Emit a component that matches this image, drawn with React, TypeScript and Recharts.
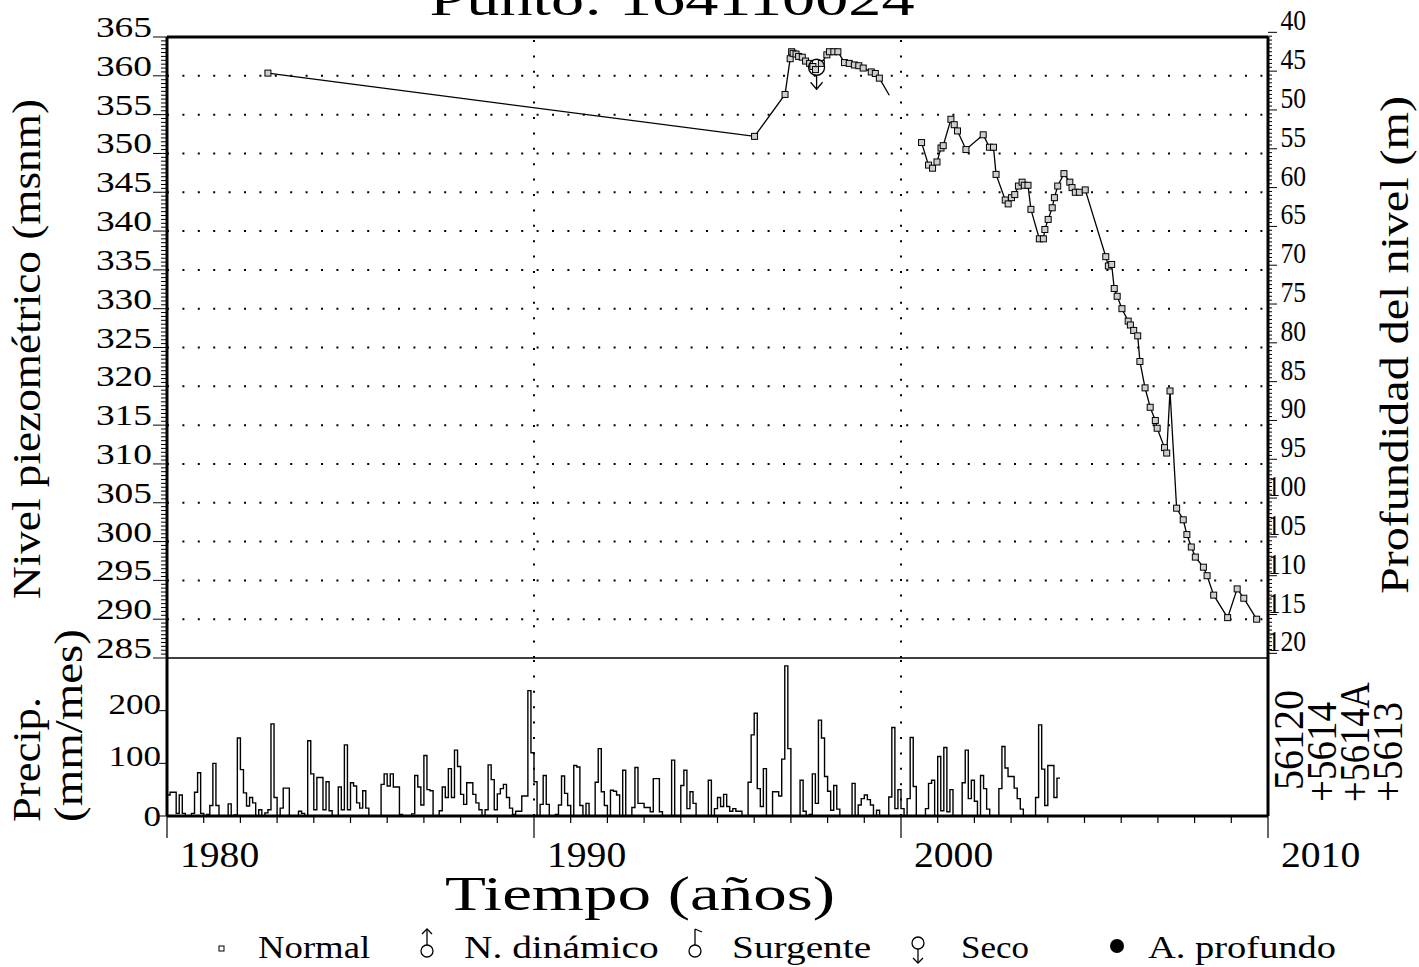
import React from 'react';
import { LineChart, Line, XAxis, YAxis, ReferenceLine, ReferenceDot } from 'recharts';

const FONT = "'Liberation Serif', 'DejaVu Serif', serif";
const W = 1419;
const H = 967;
const PLOT_L = 167;
const PLOT_R = 1268;
const TOP = 37;
const MID = 658;
const BOTTOM = 816;

// nivel piezométrico, primer tramo (año decimal / msnm)
const seg1Years = [
  1982.75, 1996.01, 1996.84, 1996.98, 1997.02, 1997.06, 1997.14, 1997.21, 1997.31, 1997.4,
  1997.51, 1997.6, 1997.67, 1997.83, 1997.98, 1998.05, 1998.17, 1998.28, 1998.46, 1998.59,
  1998.73, 1998.85, 1998.97, 1999.19, 1999.3, 1999.41, 1999.68,
];
const seg1Levels = [
  360.35, 352.2, 357.6, 362.2, 363.1, 362.9, 362.8, 362.5, 362.4, 361.9,
  361.6, 361.2, 360.8, 361.6, 362.7, 363.1, 363.1, 363.1, 361.7, 361.6,
  361.4, 361.3, 361.0, 360.5, 360.3, 359.7, 357.5,
];
const seg1NoMark = [26];

// segundo tramo
const seg2Years = [
  2000.56, 2000.75, 2000.86, 2000.98, 2001.09, 2001.15, 2001.36, 2001.45, 2001.54, 2001.77,
  2002.24, 2002.41, 2002.52, 2002.59, 2002.84, 2002.92, 2003.01, 2003.1, 2003.2, 2003.3,
  2003.36, 2003.46, 2003.54, 2003.77, 2003.88, 2003.92, 2004.01, 2004.12, 2004.18, 2004.27,
  2004.44, 2004.6, 2004.66, 2004.75, 2004.86, 2005.02, 2005.58, 2005.65, 2005.74, 2005.81,
  2005.89, 2006.02, 2006.19, 2006.25, 2006.34, 2006.45, 2006.51, 2006.65, 2006.79, 2006.93,
  2006.98, 2007.18, 2007.24, 2007.33, 2007.51, 2007.69, 2007.79, 2007.91, 2008.02, 2008.24,
  2008.34, 2008.52, 2008.9, 2009.16, 2009.34, 2009.69,
];
const seg2Levels = [
  351.4, 348.5, 348.1, 348.9, 350.7, 351.0, 354.4, 353.7, 352.9, 350.5,
  352.4, 350.8, 350.8, 347.3, 344.0, 343.5, 344.3, 344.7, 345.8, 346.3,
  345.9, 345.9, 342.8, 339.0, 339.0, 340.2, 341.5, 343.0, 344.3, 345.8,
  347.4, 346.3, 345.6, 345.0, 345.0, 345.3, 336.7, 335.5, 335.7, 332.6,
  331.6, 330.0, 328.4, 327.9, 327.2, 326.5, 323.2, 319.8, 317.3, 315.6,
  314.6, 312.1, 311.4, 319.4, 304.3, 302.8, 300.9, 299.3, 298.0, 296.7,
  295.6, 293.1, 290.2, 293.9, 292.7, 290.0,
];

// medida "Seco"
const secoYear = 1997.7;
const secoLevel = 361.1;

// precipitación mensual (mm/mes) desde enero 1980
const precipStartYear = 1980;
const precipMonthly = [
  40, 45, 45, 5, 40, 5, 0, 0, 5, 45, 82, 5, // 1980
  0, 3, 20, 100, 20, 0, 0, 0, 23, 0, 2, 148, // 1981
  88, 44, 19, 35, 25, 0, 12, 0, 6, 12, 175, 35, // 1982
  0, 15, 53, 53, 0, 0, 0, 9, 5, 0, 143, 80, // 1983
  12, 73, 73, 12, 65, 10, 0, 0, 55, 12, 135, 12, // 1984
  63, 57, 25, 15, 48, 15, 0, 0, 0, 0, 60, 80, // 1985
  57, 80, 55, 55, 3, 0, 0, 0, 4, 77, 55, 21, // 1986
  115, 50, 48, 0, 0, 10, 55, 35, 90, 35, 125, 94, // 1987
  41, 22, 63, 63, 41, 25, 12, 0, 12, 97, 69, 12, // 1988
  42, 52, 60, 35, 15, 3, 9, 9, 38, 38, 238, 120, // 1989
  65, 0, 22, 77, 22, 0, 0, 3, 21, 76, 43, 20, // 1990
  0, 96, 93, 20, 0, 24, 0, 0, 64, 128, 46, 20, // 1991
  0, 49, 47, 40, 0, 87, 0, 0, 16, 92, 24, 24, // 1992
  16, 16, 8, 71, 71, 8, 0, 0, 0, 106, 0, 0, // 1993
  58, 87, 14, 46, 24, 0, 0, 0, 0, 68, 0, 14, // 1994
  35, 18, 41, 18, 9, 14, 9, 9, 0, 0, 64, 154, // 1995
  195, 52, 18, 90, 0, 0, 46, 46, 38, 108, 285, 128, // 1996
  0, 0, 0, 68, 9, 0, 3, 80, 24, 182, 148, 75, // 1997
  47, 11, 58, 13, 0, 0, 0, 0, 62, 0, 21, 33, // 1998
  40, 31, 21, 0, 11, 0, 0, 0, 36, 168, 14, 50, // 1999
  14, 0, 33, 149, 56, 0, 0, 0, 14, 62, 68, 0, // 2000
  113, 10, 130, 8, 50, 0, 0, 0, 63, 125, 33, 68, // 2001
  28, 0, 77, 52, 13, 0, 0, 0, 52, 132, 91, 75, // 2002
  75, 53, 33, 13, 0, 0, 0, 0, 35, 173, 89, 20, // 2003
  96, 96, 35, 72, // 2004
];

const levelLabels = [285, 290, 295, 300, 305, 310, 315, 320, 325, 330, 335, 340, 345, 350, 355, 360, 365];
const depthLabels = [40, 45, 50, 55, 60, 65, 70, 75, 80, 85, 90, 95, 100, 105, 110, 115, 120];
const GROUND = 405.6; // cota del terreno: profundidad = GROUND - nivel
const precipLabels = [0, 100, 200];
const decadeLabels = [1980, 1990, 2000, 2010];
const stationLabels = ['56120', '+5614', '+5614A', '+5613'];

const seg1Data = seg1Years.map((t, i) => ({ t, v: seg1Levels[i], mark: !seg1NoMark.includes(i) }));
const seg2Data = seg2Years.map((t, i) => ({ t, v: seg2Levels[i], mark: true }));
const precipData = precipMonthly.map((p, i) => ({ t: precipStartYear + i / 12, p }));
precipData.push({ t: precipStartYear + precipMonthly.length / 12, p: precipMonthly[precipMonthly.length - 1] });

const levelTicks: number[] = [];
for (let v = 285; v <= 365; v += 0.5) levelTicks.push(v);
const depthTicks: number[] = [];
for (let d = 40; d <= 120; d += 0.5) depthTicks.push(+(GROUND - d).toFixed(2));
const yearTicks: number[] = [];
for (let y = 1980; y <= 2010; y++) yearTicks.push(y);
const gridLevels = levelLabels.filter((v) => v > 285 && v < 365);

const DOTS = '2 13.4';

// monospaced look: every label gets a fixed pitch per character
function Txt({ x, y, size, pitch, anchor = 'start', children }: any) {
  const s = String(children);
  return (
    <text
      x={x}
      y={y}
      textAnchor={anchor}
      fontFamily={FONT}
      fontSize={size}
      textLength={s.length * pitch}
      lengthAdjust="spacingAndGlyphs"
      fill="#000"
    >
      {s}
    </text>
  );
}

function LevelTick(props: any) {
  const { y, payload } = props;
  const v = payload.value;
  const major = levelLabels.includes(v);
  return (
    <g>
      <line x1={major ? PLOT_L - 14 : PLOT_L - 6} x2={PLOT_L} y1={y} y2={y} stroke="#000" strokeWidth={1} />
      {major && <Txt x={PLOT_L - 15} y={y} size={30} pitch={18.7} anchor="end">{v}</Txt>}
    </g>
  );
}

function DepthTick(props: any) {
  const { y, payload } = props;
  const d = Math.round((GROUND - payload.value) * 2) / 2;
  const major = depthLabels.includes(d);
  return (
    <g>
      <line x1={PLOT_R} x2={PLOT_R + (major ? 9 : 4)} y1={y} y2={y} stroke="#000" strokeWidth={1} />
      {major && <Txt x={PLOT_R + 38} y={y - 2} size={30} pitch={12.8} anchor="end">{d}</Txt>}
    </g>
  );
}

function PrecipTick(props: any) {
  const { y, payload } = props;
  const v = payload.value;
  return (
    <g>
      <line x1={PLOT_L - 8} x2={PLOT_L} y1={y} y2={y} stroke="#000" strokeWidth={1} />
      <Txt x={PLOT_L - 6} y={y + (v === 0 ? 10 : 3)} size={30} pitch={17.5} anchor="end">{v}</Txt>
    </g>
  );
}

function YearTick(props: any) {
  const { x, payload } = props;
  const v = payload.value;
  const decade = decadeLabels.includes(v);
  return (
    <g>
      <line x1={x} x2={x} y1={BOTTOM} y2={BOTTOM + (decade ? 22 : 7)} stroke="#000" strokeWidth={1.2} />
      {decade && <Txt x={x + 13} y={867} size={35} pitch={19.8}>{v}</Txt>}
    </g>
  );
}

function SquareDot(props: any) {
  const { cx, cy, payload, index } = props;
  if (!payload.mark) return <g key={`n-${index}`} />;
  return <rect key={`d-${index}`} x={cx - 3} y={cy - 3} width={6} height={6} fill="#cfcfcf" stroke="#000" strokeWidth={1} />;
}

function SecoShape(props: any) {
  const { cx, cy } = props;
  return (
    <g fill="none" stroke="#000" strokeWidth={1.3}>
      <circle cx={cx} cy={cy} r={8} />
      <line x1={cx} x2={cx} y1={cy + 8} y2={cy + 22} />
      <polyline points={`${cx - 6},${cy + 15} ${cx},${cy + 22} ${cx + 6},${cy + 15}`} />
    </g>
  );
}

function Rot({ x, y, size, len, anchor = 'middle', children }: any) {
  return (
    <text
      transform={`translate(${x},${y}) rotate(-90)`}
      textAnchor={anchor}
      fontFamily={FONT}
      fontSize={size}
      textLength={len}
      lengthAdjust="spacingAndGlyphs"
      fill="#000"
    >
      {children}
    </text>
  );
}

export default function App() {
  return (
    <div style={{ position: 'absolute', left: 0, top: 0, width: W, height: H, background: '#fff' }}>
      <div style={{ position: 'absolute', left: 0, top: 0 }}>
        <LineChart width={W} height={H} margin={{ top: TOP, right: W - PLOT_R - 100, bottom: H - MID, left: PLOT_L - 100 }}>
          <XAxis type="number" dataKey="t" domain={[1980, 2010]} allowDataOverflow hide />
          <YAxis
            yAxisId="lvl"
            orientation="left"
            width={100}
            type="number"
            domain={[285, 365]}
            allowDataOverflow
            ticks={levelTicks}
            interval={0}
            tickLine={false}
            axisLine={{ stroke: '#000', strokeWidth: 3 }}
            tick={(p: any) => <LevelTick {...p} />}
          />
          <YAxis
            yAxisId="dep"
            orientation="right"
            width={100}
            type="number"
            domain={[285, 365]}
            allowDataOverflow
            ticks={depthTicks}
            interval={0}
            tickLine={false}
            axisLine={{ stroke: '#000', strokeWidth: 3 }}
            tick={(p: any) => <DepthTick {...p} />}
          />
          {gridLevels.map((v) => (
            <ReferenceLine key={`g${v}`} yAxisId="lvl" y={v} stroke="#000" strokeWidth={2} strokeDasharray={DOTS} />
          ))}
          <ReferenceLine yAxisId="lvl" x={1990} stroke="#000" strokeWidth={2} strokeDasharray={DOTS} />
          <ReferenceLine yAxisId="lvl" x={2000} stroke="#000" strokeWidth={2} strokeDasharray={DOTS} />
          <ReferenceLine yAxisId="lvl" y={365} stroke="#000" strokeWidth={3} />
          <ReferenceLine yAxisId="lvl" y={285} stroke="#000" strokeWidth={1.5} />
          <Line
            yAxisId="lvl"
            data={seg1Data}
            dataKey="v"
            type="linear"
            stroke="#000"
            strokeWidth={1.3}
            dot={(p: any) => <SquareDot {...p} />}
            isAnimationActive={false}
          />
          <Line
            yAxisId="lvl"
            data={seg2Data}
            dataKey="v"
            type="linear"
            stroke="#000"
            strokeWidth={1.3}
            dot={(p: any) => <SquareDot {...p} />}
            isAnimationActive={false}
          />
          <ReferenceDot yAxisId="lvl" x={secoYear} y={secoLevel} r={8} shape={(p: any) => <SecoShape {...p} />} />
        </LineChart>
      </div>

      <div style={{ position: 'absolute', left: 0, top: 0 }}>
        <LineChart
          width={W}
          height={H}
          data={precipData}
          margin={{ top: MID, right: W - PLOT_R - 100, bottom: H - BOTTOM - 60, left: PLOT_L - 100 }}
        >
          <XAxis
            type="number"
            dataKey="t"
            domain={[1980, 2010]}
            allowDataOverflow
            ticks={yearTicks}
            interval={0}
            height={60}
            tickLine={false}
            axisLine={{ stroke: '#000', strokeWidth: 3 }}
            tick={(p: any) => <YearTick {...p} />}
          />
          <YAxis
            yAxisId="p"
            orientation="left"
            width={100}
            type="number"
            domain={[0, 300]}
            allowDataOverflow
            ticks={precipLabels}
            interval={0}
            tickLine={false}
            axisLine={{ stroke: '#000', strokeWidth: 3 }}
            tick={(p: any) => <PrecipTick {...p} />}
          />
          <YAxis
            yAxisId="r"
            orientation="right"
            width={100}
            type="number"
            domain={[0, 300]}
            tick={false}
            tickLine={false}
            axisLine={{ stroke: '#000', strokeWidth: 3 }}
          />
          <ReferenceLine yAxisId="p" x={1990} stroke="#000" strokeWidth={2} strokeDasharray={DOTS} />
          <ReferenceLine yAxisId="p" x={2000} stroke="#000" strokeWidth={2} strokeDasharray={DOTS} />
          <Line
            yAxisId="p"
            dataKey="p"
            type="stepAfter"
            stroke="#000"
            strokeWidth={1.4}
            dot={false}
            isAnimationActive={false}
          />
        </LineChart>
      </div>

      <svg width={W} height={H} style={{ position: 'absolute', left: 0, top: 0, pointerEvents: 'none' }}>
        <text x={672} y={15} textAnchor="middle" fontFamily={FONT} fontSize={47} textLength={485} lengthAdjust="spacingAndGlyphs">
          Punto:  164110024
        </text>
        <Rot x={40} y={349} size={40} len={500}>Nivel piezométrico (msnm)</Rot>
        <Rot x={1408} y={345} size={40} len={498}>Profundidad del nivel (m)</Rot>
        <Rot x={40} y={822} size={40} len={125} anchor="start">Precip.</Rot>
        <Rot x={82} y={822} size={40} len={193} anchor="start">(mm/mes)</Rot>
        {stationLabels.map((s, i) => (
          <Rot key={s} x={1303 + i * 33} y={i === 0 ? 790 : 802} size={42} len={s.length * 20} anchor="start">
            {s}
          </Rot>
        ))}
        <text x={640} y={910} textAnchor="middle" fontFamily={FONT} fontSize={48} textLength={390} lengthAdjust="spacingAndGlyphs">
          Tiempo (años)
        </text>

        <g>
          <rect x={219} y={946} width={5} height={5} fill="none" stroke="#000" strokeWidth={1} />
          <Txt x={258} y={958} size={31} pitch={18.7}>Normal</Txt>
          <g fill="none" stroke="#000" strokeWidth={1.3}>
            <circle cx={427} cy={951} r={6} />
            <line x1={427} x2={427} y1={945} y2={929} />
            <polyline points="422,934 427,929 432,934" />
          </g>
          <Txt x={464} y={958} size={31} pitch={17.7}>N. dinámico</Txt>
          <g fill="none" stroke="#000" strokeWidth={1.3}>
            <circle cx={695} cy={951} r={6} />
            <line x1={695} x2={695} y1={945} y2={929} />
            <line x1={695} x2={702} y1={929} y2={932} />
          </g>
          <Txt x={732} y={958} size={31} pitch={17.4}>Surgente</Txt>
          <g fill="none" stroke="#000" strokeWidth={1.3}>
            <circle cx={918} cy={943} r={6} />
            <line x1={918} x2={918} y1={949} y2={963} />
            <polyline points="913,958 918,963 923,958" />
          </g>
          <Txt x={961} y={958} size={31} pitch={17}>Seco</Txt>
          <circle cx={1117} cy={946} r={7} fill="#000" />
          <Txt x={1148} y={958} size={31} pitch={17.1}>A. profundo</Txt>
        </g>
      </svg>
    </div>
  );
}
